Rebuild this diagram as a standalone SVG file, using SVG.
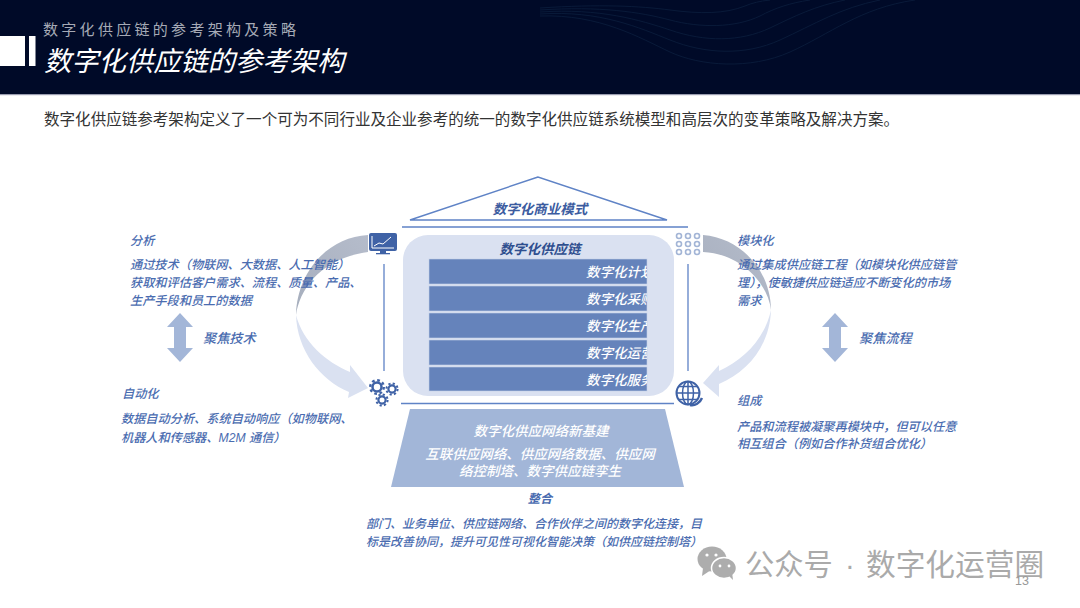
<svg xmlns="http://www.w3.org/2000/svg" width="1080" height="608" viewBox="0 0 1080 608">
<style>
text{font-family:"Liberation Sans","Noto Sans CJK SC",sans-serif}
.lbl{font-size:12.2px;font-style:italic;font-weight:500;fill:#4a6cb0}
.hd{font-size:13.5px;font-style:italic;font-weight:700;fill:#3c5c9f}
.bar{fill:#6583bb;stroke:#c3cfe6;stroke-width:.6}
.barT{font-size:13.5px;font-style:italic;font-weight:500;fill:#fff}
.wt{font-size:13.5px;font-style:italic;font-weight:500;fill:#fff;text-anchor:middle}
.ln{stroke:#5f83c6;stroke-width:1.3;fill:none}
.ic{fill:#3f62a6}
.dbl{fill:#a3b6d8}
.dot{fill:none;stroke:#a3b5d6;stroke-width:1.6}
.wave{fill:none;stroke:#0d2140;stroke-width:.7}
</style>
<defs>
<linearGradient id="gl" x1="1" y1="0" x2="0" y2="1"><stop offset="0" stop-color="#b5bccb"/><stop offset="1" stop-color="#a6aebd"/></linearGradient>
<clipPath id="barClip"><rect x="429" y="255" width="218" height="140"/></clipPath>
</defs>
<rect width="1080" height="608" fill="#fff"/>
<g id="header">
<rect width="1080" height="94" fill="#000a28"/>
<rect y="94" width="1080" height="1.2" fill="#9a9db0"/>
<path class="wave" d="M540 16C600 14 640 38 670 52C700 66 750 70 790 52C830 34 860 8 915 0"/>
<path class="wave" d="M540 14C600 10 640 28 670 40C705 54 745 56 780 40C815 24 840 8 880 0"/>
<path class="wave" d="M540 12C600 8 640 20 670 30C705 42 740 42 770 28C795 16 815 6 845 0"/>
<path class="wave" d="M540 10C600 6 640 12 670 20C700 28 735 28 760 16C775 8 790 3 810 0"/>
<path class="wave" d="M540 8C600 4 640 6 670 10C700 14 725 14 745 6C752 3 760 1 770 0"/>
<rect y="36" width="25" height="30" fill="#fff"/>
<rect x="29" y="36" width="6.500" height="30" fill="#fff"/>
<text x="43" y="35" font-size="15" letter-spacing="3.3" fill="#a6aab6">数字化供应链的参考架构及策略</text>
<text x="44" y="71" font-size="27.300" font-style="italic" fill="#fff">数字化供应链的参考架构</text>
</g>
<text id="intro" x="44" y="125" font-size="15.560" fill="#333">数字化供应链参考架构定义了一个可为不同行业及企业参考的统一的数字化供应链系统模型和高层次的变革策略及解决方案。</text>

<g id="connectors">
<path fill="url(#gl)" d="M368 235C328 237 297 272 296 315C300 288 322 258 368 252Z"/>
<path fill="#dae1f1" d="M296 315C297 350 320 380 349 392L348 398L368 388L350 365L350 372C326 362 303 342 296 315Z"/>
<path fill="url(#gl)" d="M703 235C742 238 771 272 771 310C768 284 742 254 703 252Z"/>
<path fill="#dae1f1" d="M771 310C770 345 748 372 719 384L719 397L703 383L719 365L719 371C744 360 765 338 771 310Z"/>
<path class="ln" d="M402 227H688M401 403.500H674M384 264V371M688 264V371"/>
</g>

<g id="roof">
<path d="M538 177L410 220H667Z" fill="#fff" stroke="#5f83c6" stroke-width="1.400"/>
<text class="hd" x="540" y="214" text-anchor="middle">数字化商业模式</text>
</g>

<g id="supply-chain">
<rect x="403" y="235" width="271" height="161" rx="25" fill="#dae1f1"/>
<text class="hd" x="540" y="254" text-anchor="middle" style="fill:#2f4f8f">数字化供应链</text>
<rect class="bar" x="429" y="259" width="218" height="25"/>
<rect class="bar" x="429" y="286" width="218" height="25"/>
<rect class="bar" x="429" y="313" width="218" height="25"/>
<rect class="bar" x="429" y="340" width="218" height="25"/>
<rect class="bar" x="429" y="367" width="218" height="24"/>
<g clip-path="url(#barClip)">
<text class="barT" x="586" y="277">数字化计划</text>
<text class="barT" x="586" y="304">数字化采购</text>
<text class="barT" x="586" y="331">数字化生产</text>
<text class="barT" x="586" y="358">数字化运营</text>
<text class="barT" x="586" y="385">数字化服务</text>
</g>
</g>

<g id="foundation">
<path d="M410 409H665L684 487H391Z" fill="#a2b6d8"/>
<text class="wt" x="541" y="436">数字化供应网络新基建</text>
<text class="wt" x="540" y="459">互联供应网络、供应网络数据、供应网</text>
<text class="wt" x="540" y="476">络控制塔、数字供应链孪生</text>
</g>

<g id="integrate">
<text class="hd" x="540" y="503" text-anchor="middle" style="font-size:12.2px;fill:#4a6cb0">整合</text>
<text class="lbl" x="366" y="528" style="font-size:12px">部门、业务单位、供应链网络、合作伙伴之间的数字化连接，目</text>
<text class="lbl" x="366" y="546" style="font-size:12px">标是改善协同，提升可见性可视化智能决策（如供应链控制塔）</text>
</g>

<g id="analysis">
<text class="lbl" x="130" y="245">分析</text>
<text class="lbl" x="130" y="269">通过技术（物联网、大数据、人工智能）</text>
<text class="lbl" x="130" y="287">获取和评估客户需求、流程、质量、产品、</text>
<text class="lbl" x="130" y="305">生产手段和员工的数据</text>
</g>
<g id="automation">
<text class="lbl" x="122" y="398">自动化</text>
<text class="lbl" x="121" y="423">数据自动分析、系统自动响应（如物联网、</text>
<text class="lbl" x="121" y="442">机器人和传感器、M2M 通信）</text>
</g>
<g id="modular">
<text class="lbl" x="737" y="245">模块化</text>
<text class="lbl" x="737" y="269">通过集成供应链工程（如模块化供应链管</text>
<text class="lbl" x="737" y="287">理），使敏捷供应链适应不断变化的市场</text>
<text class="lbl" x="737" y="305">需求</text>
</g>
<g id="composition">
<text class="lbl" x="737" y="405">组成</text>
<text class="lbl" x="737" y="431">产品和流程被凝聚再模块中，但可以任意</text>
<text class="lbl" x="737" y="448">相互组合（例如合作补货组合优化）</text>
</g>

<g id="focus-tech">
<path class="dbl" d="M180 313L193 327H186V348H193L180 362L167 348H174V327H167Z"/>
<text class="lbl" x="203" y="343" style="font-size:13.200px">聚焦技术</text>
</g>
<g id="focus-process">
<path class="dbl" d="M835 313L848 327H841V348H848L835 362L822 348H829V327H822Z"/>
<text class="lbl" x="859" y="343" style="font-size:13.200px">聚焦流程</text>
</g>

<g id="icon-monitor">
<rect x="369" y="233" width="28" height="18" rx="2" class="ic"/>
<rect x="380" y="251" width="6" height="2.500" class="ic"/>
<rect x="376" y="253" width="14" height="1.300" class="ic"/>
<path d="M372 236V248H394M374 246L379 243L383 244L391 237" fill="none" stroke="#fff" stroke-width="1"/>
</g>
<g id="icon-grid">
<circle class="dot" cx="679" cy="236" r="2.500"/><circle class="dot" cx="688" cy="236" r="2.500"/><circle class="dot" cx="697" cy="236" r="2.500"/>
<circle class="dot" cx="679" cy="244" r="2.500"/><circle class="dot" cx="688" cy="244" r="2.500"/><circle class="dot" cx="697" cy="244" r="2.500"/>
<circle class="dot" cx="679" cy="252" r="2.500"/><circle class="dot" cx="688" cy="252" r="2.500"/><circle class="dot" cx="697" cy="252" r="2.500"/>
</g>
<g id="icon-gears" fill="none" stroke="#3f62a6">
<circle cx="377" cy="387" r="4.500" stroke-width="2.500"/><circle cx="377" cy="387" r="6.800" stroke-width="2.400" stroke-dasharray="2.700 2.640"/>
<circle cx="392" cy="389" r="3.600" stroke-width="2.200"/><circle cx="392" cy="389" r="5.600" stroke-width="2" stroke-dasharray="2.200 2.200"/>
<circle cx="382" cy="400" r="3.600" stroke-width="2.200"/><circle cx="382" cy="400" r="5.600" stroke-width="2" stroke-dasharray="2.200 2.200"/>
</g>
<g id="icon-globe" fill="none" stroke="#3f62a6" stroke-width="1.500">
<circle cx="688" cy="393" r="11.500" stroke-width="2"/>
<ellipse cx="688" cy="393" rx="5.500" ry="11.500"/>
<path d="M688 381.500V404.500M676.500 393H699.500M678.500 386.500H697.500M678.500 399.500H697.500"/>
<path d="M690 405C695 406 700 403 702 398" stroke-width="2.400"/>
</g>

<g id="watermark">
<ellipse cx="712" cy="559" rx="14.500" ry="12.500" fill="#adadad"/>
<path d="M703 568L702 576L711 570Z" fill="#adadad"/>
<ellipse cx="724" cy="568" rx="12.500" ry="10.500" fill="#adadad" stroke="#fff" stroke-width="1.500"/>
<path d="M729 576L733 580L732 572Z" fill="#adadad"/>
<circle cx="707" cy="555" r="1.600" fill="#fff"/><circle cx="716" cy="555" r="1.600" fill="#fff"/>
<circle cx="720" cy="566" r="1.400" fill="#fff"/><circle cx="729" cy="566" r="1.400" fill="#fff"/>
<text x="745" y="575" font-size="29.300" fill="#aaa">公众号</text>
<text x="845" y="575" font-size="29.300" fill="#aaa">·</text>
<text x="866" y="575" font-size="29.700" fill="#aaa">数字化运营圈</text>
<text x="1015" y="585" font-size="12.500" fill="#999">13</text>
</g>
</svg>
